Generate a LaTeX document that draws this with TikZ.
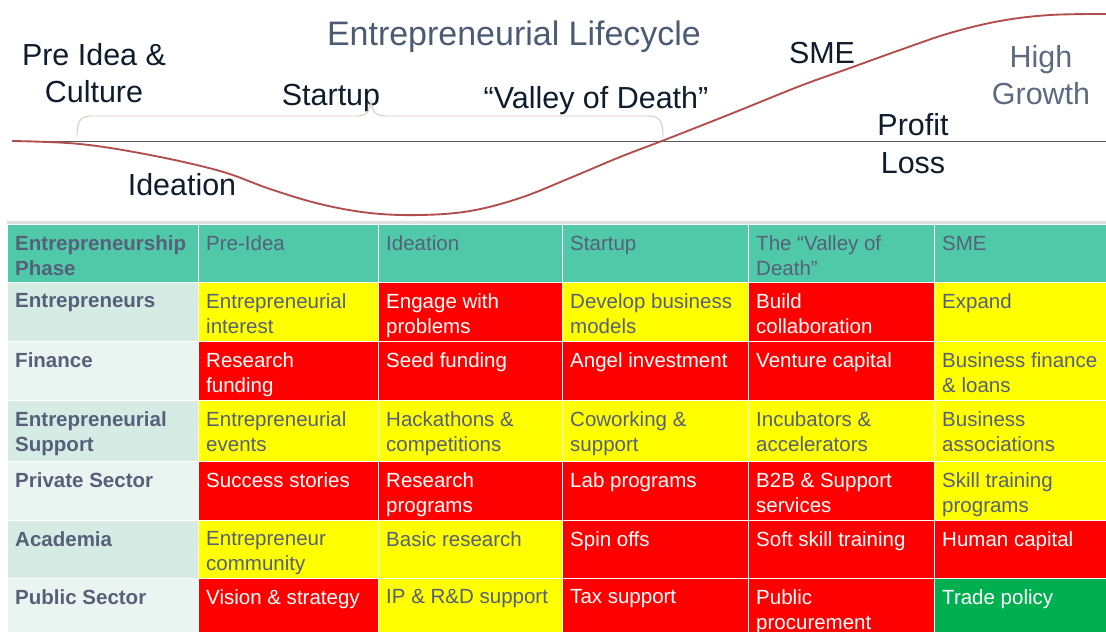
\documentclass[tikz,border=0pt]{standalone}
\usepackage{fontspec}
\setmainfont{Liberation Sans}
\definecolor{head}{HTML}{50C9A8}
\definecolor{laba}{HTML}{D5EBE3}
\definecolor{labb}{HTML}{EAF5F1}
\definecolor{yel}{HTML}{FFFF00}
\definecolor{rd}{HTML}{FF0000}
\definecolor{grn}{HTML}{00B050}
\definecolor{ink}{HTML}{56607A}
\definecolor{navy}{HTML}{0E1C2C}
\definecolor{slate}{HTML}{4B5B73}
\definecolor{lifered}{HTML}{B24E4B}
\definecolor{bracegray}{HTML}{D6C8C8}
\def\colx{{7,198,378,562,748,934,1106}}
\def\rowy{{224,282,341,400,461,520,578,640}}

\begin{document}
\begin{tikzpicture}[x=0.03cm, y=-0.03cm,
    big/.style={font=\fontsize{26}{31.6}\selectfont, text=navy, inner sep=0, align=center},
    cell/.style={inner sep=0, anchor=north west, align=left},
    lifeline/.style={lifered, line width=1.6pt},
    axis/.style={black!65, line width=0.8pt},
    curly/.style={bracegray, line width=0.8pt}]
    \useasboundingbox (0,0) rectangle (1106,631);
    \clip (0,0) rectangle (1106,631);

    \node[font=\fontsize{29}{34}\selectfont, text=slate, inner sep=0, anchor=base] (lifecycle) at (514,45) {Entrepreneurial Lifecycle};
    \node[big, anchor=north] (pre-idea) at (94,43) {Pre Idea \&\\Culture};
    \node[big, anchor=base] (startup) at (331,105) {Startup};
    \node[big, anchor=base] (valley) at (596,108) {“Valley of Death”};
    \node[big, anchor=base] (sme) at (822,63) {SME};
    \node[big, anchor=north, text=slate!90] (growth) at (1041,45) {High\\Growth};
    \node[big, anchor=base] (profit) at (913,135) {Profit};
    \node[big, anchor=base] (loss) at (913,173) {Loss};
    \node[big, anchor=base] (ideation) at (182,195) {Ideation};

    \coordinate (axis-l) at (12,141);
    \coordinate (axis-r) at (1106,141);
    \draw[axis] (axis-l) -- (axis-r);

    \coordinate (brace-l) at (77,137);
    \coordinate (brace-r) at (663,137);
    \draw[curly] (brace-l) .. controls (77,121) and (80,116) .. (92,116) -- (356,116)
        .. controls (366,116) and (370,112) .. (371,101)
        .. controls (372,112) and (376,116) .. (386,116) -- (648,116)
        .. controls (660,116) and (663,121) .. (brace-r);

    \draw[lifeline] plot[smooth, tension=0.6] coordinates {(12,141) (80,144) (150,155)
        (220,171) (270,189) (320,204) (370,213) (420,215) (470,211) (520,198) (570,178)
        (620,157) (667,139) (733,113) (800,86) (850,68) (900,50) (950,33) (1000,21)
        (1050,15) (1106,14)};

    \fill[black!12] (7,221) rectangle (1106,224);
    \foreach \rw/\cl/\bg/\fg/\txt in {
        0/0/head/ink/{Entrepreneurship\\Phase}, 0/1/head/ink/Pre-Idea, 0/2/head/ink/Ideation,
        0/3/head/ink/Startup, 0/4/head/ink/{The “Valley of\\Death”}, 0/5/head/ink/SME,
        1/0/laba/ink/Entrepreneurs, 1/1/yel/ink/{Entrepreneurial\\interest},
        1/2/rd/white/{Engage with\\problems}, 1/3/yel/ink/{Develop business\\models},
        1/4/rd/white/{Build\\collaboration}, 1/5/yel/ink/Expand,
        2/0/labb/ink/Finance, 2/1/rd/white/{Research\\funding}, 2/2/rd/white/{Seed funding},
        2/3/rd/white/{Angel investment}, 2/4/rd/white/{Venture capital},
        2/5/yel/ink/{Business finance\\\& loans},
        3/0/laba/ink/{Entrepreneurial\\Support}, 3/1/yel/ink/{Entrepreneurial\\events},
        3/2/yel/ink/{Hackathons \&\\competitions}, 3/3/yel/ink/{Coworking \&\\support},
        3/4/yel/ink/{Incubators \&\\accelerators}, 3/5/yel/ink/{Business\\associations},
        4/0/labb/ink/{Private Sector}, 4/1/rd/white/{Success stories},
        4/2/rd/white/{Research\\programs}, 4/3/rd/white/{Lab programs},
        4/4/rd/white/{B2B \& Support\\services}, 4/5/yel/ink/{Skill training\\programs},
        5/0/laba/ink/Academia, 5/1/yel/ink/{Entrepreneur\\community},
        5/2/yel/ink/{Basic research}, 5/3/rd/white/{Spin offs},
        5/4/rd/white/{Soft skill training}, 5/5/rd/white/{Human capital},
        6/0/labb/ink/{Public Sector}, 6/1/rd/white/{Vision \& strategy},
        6/2/yel/ink/{IP \& R\&D support}, 6/3/rd/white/{Tax support},
        6/4/rd/white/{Public\\procurement}, 6/5/grn/white/{Trade policy}}
    {
        \pgfmathsetmacro\xa{\colx[\cl]}
        \pgfmathsetmacro\xb{\colx[\cl+1]}
        \pgfmathsetmacro\ya{\rowy[\rw]}
        \pgfmathsetmacro\yb{\rowy[\rw+1]}
        \ifnum\cl=0 \def\wt{\bfseries}\else\def\wt{}\fi
        \filldraw[fill=\bg, draw=white, line width=0.6pt] (\xa,\ya) rectangle (\xb,\yb);
        \node[cell, text=\fg, font=\fontsize{17.5}{21.3}\selectfont\wt]
            (c-\rw-\cl) at (\xa+8,\ya+11.5) {\txt};
    }
\end{tikzpicture}
\end{document}
